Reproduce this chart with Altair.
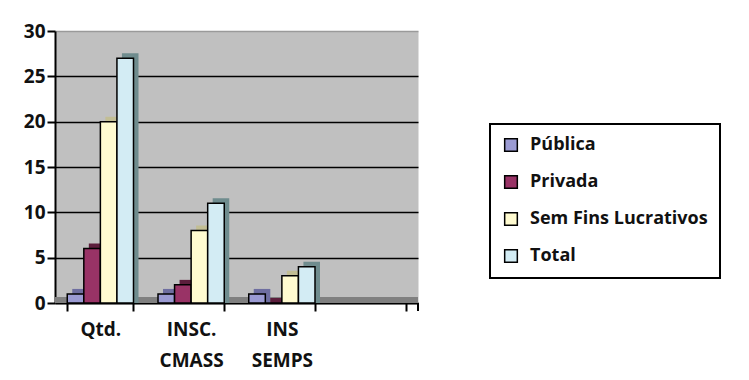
import altair as alt
import pandas as pd

categories = ["Qtd.", "INSC. CMASS", "INS SEMPS", " "]
series = ["Pública", "Privada", "Sem Fins Lucrativos", "Total"]
publica = [1, 1, 1]
privada = [6, 2, 0]
sem_fins = [20, 8, 3]
total = [27, 11, 4]
y_ticks = [0, 5, 10, 15, 20, 25, 30]

colors = ["#9B9BD3", "#993366", "#FFFBD0", "#D3ECF4"]
shade = ["#6E6EA0", "#5C1E3C", "#C2BE94", "#6F8C8E"]

FONT = "Open Sans"

rows = []
for i, cat in enumerate(categories[:3]):
    for s, vals in zip(series, [publica, privada, sem_fins, total]):
        rows.append({"categoria": cat, "serie": s, "valor": vals[i]})
df = pd.DataFrame(rows)

W, H = 363, 272
pin = 0.27
step = W / (len(categories) - pin + 2 * pin / 2)
bandw = step * (1 - pin)
depth = 5

x_enc = alt.X(
    "categoria:N",
    scale=alt.Scale(domain=categories, paddingInner=pin, paddingOuter=pin / 2),
    sort=categories,
    axis=alt.Axis(
        title=None,
        labelAngle=0,
        tickBand="extent",
        labelExpr="split(datum.label, ' ')",
        labelLineHeight=31,
        labelPadding=9,
        labelBaseline="top",
        tickSize=8,
        tickColor="black",
        tickWidth=2,
        domainColor="black",
        domainWidth=2,
        labelFontSize=19,
        labelFontWeight="bold",
        labelColor="#111111",
        labelFont=FONT,
    ),
)

y_enc = alt.Y(
    "valor:Q",
    scale=alt.Scale(domain=[0, 30], nice=False),
    axis=alt.Axis(
        title=None,
        values=y_ticks,
        grid=True,
        gridColor={"condition": {"test": "datum.value === 30 || datum.value === 0", "value": "#9a9a9a"}, "value": "black"},
        gridWidth=1.5,
        tickSize=8,
        tickColor="black",
        tickWidth=2,
        domainColor="black",
        domainWidth=2,
        labelFontSize=19,
        labelFontWeight="bold",
        labelColor="#111111",
        labelFont=FONT,
        labelPadding=2,
    ),
)

base = alt.Chart(df)

floor = base.mark_rule(color="#808080", strokeWidth=6).encode(
    x=alt.value(0), x2=alt.value(W), y=alt.value(H - 3)
)

end_tick = base.mark_rule(color="black", strokeWidth=2).encode(
    x=alt.value(W), y=alt.value(H), y2=alt.value(H + 8)
)

shadow = base.mark_bar(yOffset=-depth, y2Offset=0).encode(
    x=x_enc,
    xOffset=alt.XOffset("serie:N", sort=series,
                        scale=alt.Scale(domain=series, range=[depth, bandw + depth])),
    y=y_enc,
    y2=alt.datum(0),
    color=alt.Color("serie:N", scale=alt.Scale(domain=series, range=shade), legend=None),
)

bars = base.mark_bar(stroke="black", strokeWidth=1.5).encode(
    x=x_enc,
    xOffset=alt.XOffset("serie:N", sort=series,
                        scale=alt.Scale(domain=series, range=[0, bandw], paddingInner=0)),
    y=y_enc,
    color=alt.Color(
        "serie:N",
        scale=alt.Scale(domain=series, range=colors),
        sort=series,
        legend=alt.Legend(
            title=None,
            orient="none",
            legendX=435,
            legendY=93,
            symbolType="square",
            symbolSize=160,
            symbolStrokeColor="black",
            symbolStrokeWidth=1.5,
            labelFontSize=18,
            labelFontWeight="bold",
            labelColor="#111111",
            labelFont=FONT,
            labelOffset=10,
            labelLimit=400,
            rowPadding=17,
            padding=12,
            strokeColor="black",
            fillColor="white",
        ),
    ),
)

chart = (
    alt.layer(floor, shadow, bars, end_tick)
    .resolve_scale(xOffset="independent", color="independent")
    .properties(
        width=W,
        height=H,
        padding={"left": 47, "top": 23, "right": 320, "bottom": 76},
        autosize=alt.AutoSizeParams(type="none"),
        background="white",
    )
    .configure_view(fill="#C0C0C0", stroke="transparent")
    .configure_legend(strokeWidth=2)
)

chart.save("out.html", embed_options={"renderer": "svg", "actions": False})
